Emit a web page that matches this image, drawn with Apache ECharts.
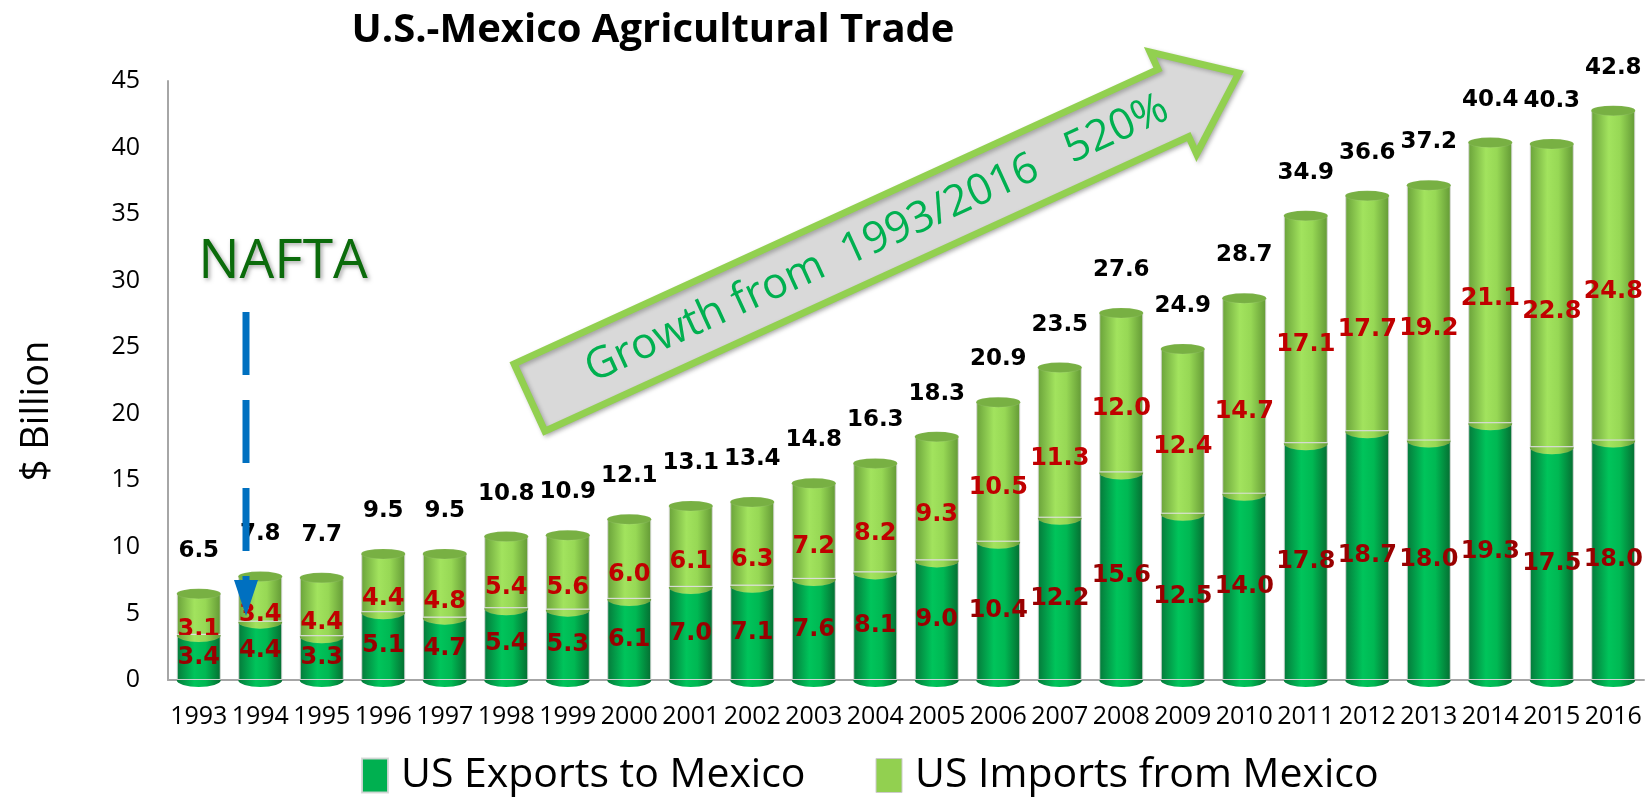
<!DOCTYPE html>
<html>
<head>
<meta charset="utf-8">
<script src="https://cdn.jsdelivr.net/npm/echarts@6/dist/echarts.min.js"></script>
<style>
html,body{margin:0;padding:0;background:#ffffff;}
#chart{width:1652px;height:800px;}
</style>
</head>
<body>
<div id="chart"></div>
<script>
// ---- data ----
const years = ['1993','1994','1995','1996','1997','1998','1999','2000','2001','2002','2003','2004',
               '2005','2006','2007','2008','2009','2010','2011','2012','2013','2014','2015','2016'];
const exportsToMexico = [3.4,4.4,3.3,5.1,4.7,5.4,5.3,6.1,7.0,7.1,7.6,8.1,9.0,10.4,12.2,15.6,12.5,14.0,17.8,18.7,18.0,19.3,17.5,18.0];
const importsFromMexico = [3.1,3.4,4.4,4.4,4.8,5.4,5.6,6.0,6.1,6.3,7.2,8.2,9.3,10.5,11.3,12.0,12.4,14.7,17.1,17.7,19.2,21.1,22.8,24.8];
const totalTrade = [6.5,7.8,7.7,9.5,9.5,10.8,10.9,12.1,13.1,13.4,14.8,16.3,18.3,20.9,23.5,27.6,24.9,28.7,34.9,36.6,37.2,40.4,40.3,42.8];
const yMin = 0, yMax = 45, yStep = 5;

// ---- derived ----
const stackTop = exportsToMexico.map((v, i) => +(v + importsFromMexico[i]).toFixed(1));

const BW = 44;
const FONT = "'Open Sans', 'Noto Sans', sans-serif";
const LABEL_FONT = "'DejaVu Sans', Verdana, sans-serif";

const exportGrad = new echarts.graphic.LinearGradient(0, 0, 1, 0, [
  {offset: 0, color: '#05793a'}, {offset: 0.4, color: '#00c45b'},
  {offset: 0.65, color: '#00b853'}, {offset: 1, color: '#056d31'}]);
const importGrad = new echarts.graphic.LinearGradient(0, 0, 1, 0, [
  {offset: 0, color: '#6aa23a'}, {offset: 0.4, color: '#a2e35e'},
  {offset: 0.65, color: '#97d855'}, {offset: 1, color: '#639935'}]);
const halfEllipse = 'path://M0,0 A20,4 0 0 0 40,0 Z';

const chart = echarts.init(document.getElementById('chart'));

const option = {
  backgroundColor: '#ffffff',
  animation: false,
  title: {
    text: 'U.S.-Mexico Agricultural Trade',
    left: 648, top: 6, textAlign: 'center',
    textStyle: {fontFamily: FONT, fontWeight: 'bold', fontSize: 40, color: '#000'}
  },
  legend: {
    left: 356, top: 750,
    itemWidth: 26, itemHeight: 34, itemGap: 70,
    icon: 'rect',
    textStyle: {fontFamily: FONT, fontSize: 41, color: '#000', padding: [0, 0, 0, 8]},
    data: [
      {name: 'US Exports to Mexico', itemStyle: {color: '#00B050'}},
      {name: 'US Imports from Mexico', itemStyle: {color: '#92D050', borderColor: '#cccccc', borderWidth: 1}}
    ]
  },
  grid: {left: 168, right: 8, top: 81, bottom: 120},
  xAxis: {
    type: 'category', data: years,
    axisLine: {lineStyle: {color: '#A6A6A6', width: 2}},
    axisTick: {show: false},
    axisLabel: {interval: 0, fontFamily: FONT, fontSize: 25, color: '#000', margin: 24}
  },
  yAxis: {
    type: 'value', min: yMin, max: yMax, interval: yStep,
    axisLine: {show: true, lineStyle: {color: '#A6A6A6', width: 2}},
    axisTick: {show: false},
    splitLine: {show: false},
    axisLabel: {fontFamily: FONT, fontSize: 25, color: '#000', margin: 28}
  },
  series: [
    {
      name: 'US Exports to Mexico', type: 'bar', stack: 'trade', barWidth: BW,
      data: exportsToMexico,
      itemStyle: {color: exportGrad, borderColor: 'rgba(215,215,215,0.9)', borderWidth: 1},
      label: {show: true, position: 'inside', color: '#990000', fontFamily: LABEL_FONT,
              fontWeight: 'bold', fontSize: 24, formatter: p => p.value.toFixed(1)},
      z: 2
    },
    {
      name: 'US Imports from Mexico', type: 'bar', stack: 'trade', barWidth: BW,
      data: importsFromMexico,
      itemStyle: {color: importGrad, borderColor: 'rgba(215,215,215,0.9)', borderWidth: 1},
      label: {show: true, position: 'inside', offset: [0, 16], color: '#C00000', fontFamily: LABEL_FONT,
              fontWeight: 'bold', fontSize: 24, formatter: p => p.value.toFixed(1)},
      z: 2
    },
    {
      name: 'seam', type: 'pictorialBar', barGap: '-100%', symbol: halfEllipse,
      symbolSize: [BW, 7], symbolPosition: 'end',
      data: exportsToMexico,
      itemStyle: {color: importGrad, borderColor: 'rgba(235,235,235,0.9)', borderWidth: 1},
      silent: true, z: 3
    },
    {
      name: 'base', type: 'pictorialBar', barGap: '-100%', symbol: halfEllipse,
      symbolSize: [BW, 7], symbolPosition: 'start', symbolOffset: [0, '100%'],
      data: exportsToMexico,
      itemStyle: {color: exportGrad},
      silent: true, z: 1
    },
    {
      name: 'cap', type: 'pictorialBar', barGap: '-100%', symbol: 'circle',
      symbolSize: [BW, 10], symbolPosition: 'end', symbolOffset: [0, '-50%'],
      data: stackTop,
      itemStyle: {color: '#78b043', borderColor: '#dadada', borderWidth: 1.5},
      label: {show: true, position: 'top', distance: 26, color: '#000', fontFamily: LABEL_FONT,
              fontWeight: 'bold', fontSize: 23, formatter: p => totalTrade[p.dataIndex].toFixed(1)},
      silent: true, z: 4
    }
  ],
  graphic: [
    // y-axis title
    {
      type: 'text', x: 37, y: 411, rotation: Math.PI / 2, z: 10,
      style: {text: '$ Billion', fill: '#000', font: "38px 'Open Sans', sans-serif",
              textAlign: 'center', textVerticalAlign: 'middle'}
    },
    // growth arrow (annotation)
    {
      type: 'polygon', x: 529.5, y: 397.5, rotation: 24.58 * Math.PI / 180, z: 50,
      shape: {points: [[0,-37],[708,-37],[708,-56],[780,0],[708,56],[708,37],[0,37]]},
      style: {fill: '#D9D9D9', stroke: '#92D050', lineWidth: 7, lineJoin: 'miter',
              shadowBlur: 4, shadowColor: 'rgba(0,0,0,0.25)', shadowOffsetX: 2, shadowOffsetY: 2}
    },
    {
      type: 'text', x: 877, y: 239, rotation: 24.58 * Math.PI / 180, z: 51,
      style: {text: 'Growth from  1993/2016   520%', fill: '#00B050',
              font: "43px 'Open Sans', sans-serif", textAlign: 'center', textVerticalAlign: 'middle'}
    },
    // NAFTA annotation
    {
      type: 'text', x: 283, y: 262, z: 51,
      style: {text: 'NAFTA', fill: '#0B6B0B', font: "55px 'Open Sans', sans-serif",
              textAlign: 'center', textVerticalAlign: 'middle',
              textShadowBlur: 4, textShadowColor: 'rgba(0,0,0,0.35)', textShadowOffsetX: 2, textShadowOffsetY: 2}
    },
    {
      type: 'line', z: 51,
      shape: {x1: 246, y1: 312, x2: 246, y2: 598},
      style: {stroke: '#0070C0', lineWidth: 7, lineDash: [63, 25]}
    },
    {
      type: 'polygon', z: 52,
      shape: {points: [[234, 580], [258, 580], [246, 616]]},
      style: {fill: '#0070C0'}
    }
  ]
};

chart.setOption(option);
</script>
</body>
</html>
